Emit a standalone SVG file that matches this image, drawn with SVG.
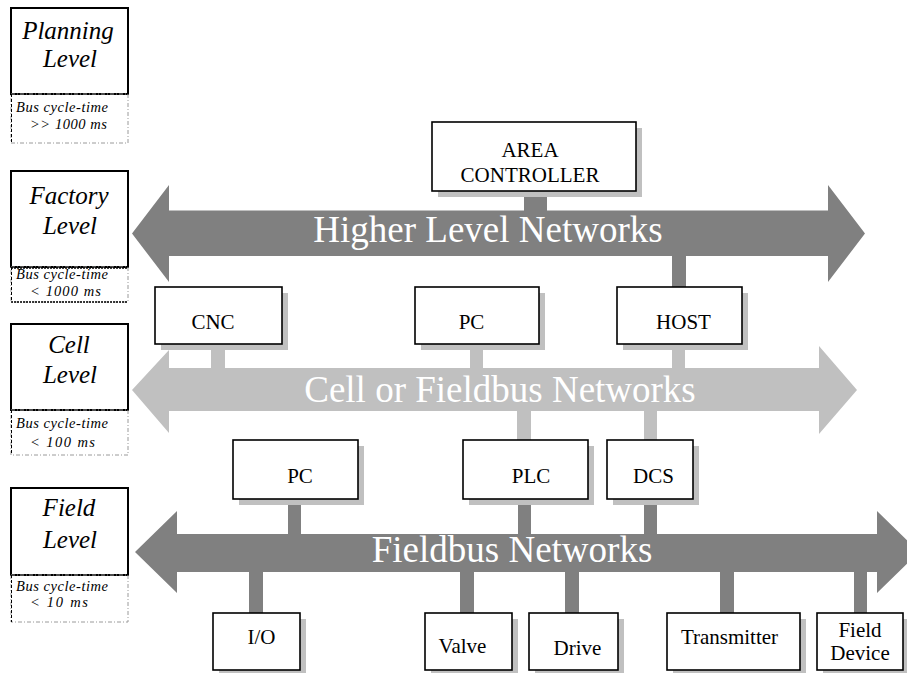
<svg xmlns="http://www.w3.org/2000/svg" width="907" height="673" viewBox="0 0 907 673">
<style>
.lvl{fill:#fff;stroke:#000;stroke-width:2}
.lt{font-family:"Liberation Serif",serif;font-style:italic;font-size:25px;text-anchor:middle;fill:#000}
.bt{font-family:"Liberation Serif",serif;font-style:italic;font-size:14.5px;fill:#000}
.sub{fill:none;stroke:#9a9a9a;stroke-width:1;stroke-dasharray:4 2 1 2}
.subl{stroke:#000;stroke-width:1;stroke-dasharray:3 2}
.dot{stroke:#000;stroke-width:1.5;stroke-dasharray:2 1}
.box{fill:#fff;stroke:#000;stroke-width:1.6}
.sh{fill:#c0c0c0}
.nt{font-family:"Liberation Serif",serif;font-size:21px;text-anchor:middle;fill:#000}
.net{font-family:"Liberation Serif",serif;font-size:37px;text-anchor:middle;fill:#fff}
.dk{fill:#808080}
.lg{fill:#c0c0c0}
</style>

<g id="planning-level">
<rect class="lvl" x="11" y="8" width="117" height="86"/>
<text class="lt" x="68" y="39">Planning</text>
<text class="lt" x="70" y="67">Level</text>
<rect class="sub" x="11" y="94" width="117" height="49"/>
<line class="subl" x1="11.5" y1="94" x2="11.5" y2="143"/>
<text class="bt" x="16" y="112" textLength="92" lengthAdjust="spacing">Bus cycle-time</text>
<text class="bt" x="30" y="129" textLength="77" lengthAdjust="spacing">&gt;&gt; 1000 ms</text>
</g>

<g id="factory-level">
<rect class="lvl" x="11" y="171" width="117" height="96"/>
<text class="lt" x="69" y="204">Factory</text>
<text class="lt" x="70" y="234">Level</text>
<rect class="sub" x="11" y="267" width="117" height="35"/>
<line class="subl" x1="11.5" y1="267" x2="11.5" y2="302"/>
<line class="dot" x1="11" y1="268" x2="128" y2="268"/>
<line class="dot" x1="11" y1="302" x2="128" y2="302"/>
<text class="bt" x="16" y="279" textLength="92" lengthAdjust="spacing">Bus cycle-time</text>
<text class="bt" x="30" y="296" textLength="71" lengthAdjust="spacing">&lt; 1000 ms</text>
</g>

<g id="cell-level">
<rect class="lvl" x="11" y="324" width="117" height="86"/>
<text class="lt" x="69" y="353">Cell</text>
<text class="lt" x="70" y="383">Level</text>
<rect class="sub" x="11" y="410" width="117" height="45"/>
<line class="subl" x1="11.5" y1="410" x2="11.5" y2="455"/>
<text class="bt" x="16" y="428" textLength="92" lengthAdjust="spacing">Bus cycle-time</text>
<text class="bt" x="30" y="447" textLength="65" lengthAdjust="spacing">&lt; 100 ms</text>
</g>

<g id="field-level">
<rect class="lvl" x="11" y="488" width="117" height="87"/>
<text class="lt" x="69" y="516">Field</text>
<text class="lt" x="70" y="548">Level</text>
<rect class="sub" x="11" y="575" width="117" height="47"/>
<line class="subl" x1="11.5" y1="575" x2="11.5" y2="622"/>
<text class="bt" x="16" y="591" textLength="92" lengthAdjust="spacing">Bus cycle-time</text>
<text class="bt" x="30" y="607" textLength="58" lengthAdjust="spacing">&lt; 10 ms</text>
</g>

<g id="connectors">
<rect class="dk" x="524" y="191" width="23" height="21"/>
<rect class="dk" x="672" y="254" width="14" height="34"/>
<rect class="lg" x="211" y="344" width="14" height="26"/>
<rect class="lg" x="470" y="344" width="13" height="26"/>
<rect class="lg" x="672" y="344" width="13" height="26"/>
<rect class="lg" x="517" y="409" width="14" height="32"/>
<rect class="lg" x="644" y="409" width="13" height="32"/>
<rect class="dk" x="288" y="499" width="13" height="37"/>
<rect class="dk" x="518" y="499" width="13" height="37"/>
<rect class="dk" x="644" y="499" width="13" height="37"/>
<rect class="dk" x="249" y="570" width="14" height="44"/>
<rect class="dk" x="460" y="570" width="14" height="44"/>
<rect class="dk" x="565" y="570" width="14" height="44"/>
<rect class="dk" x="720" y="570" width="14" height="44"/>
<rect class="dk" x="854" y="570" width="13" height="44"/>
</g>

<g id="higher-level-networks">
<polygon class="dk" points="132,233.5 169,185 169,210.5 828,210.5 828,185 865,233.5 828,282 828,256 169,256 169,282"/>
<text class="net" x="488" y="242">Higher Level Networks</text>
</g>

<g id="cell-networks">
<polygon class="lg" points="132,390 169,350 169,368 819,368 819,346 857,390 819,434 819,411 169,411 169,433"/>
<text class="net" x="500" y="402">Cell or Fieldbus Networks</text>
</g>

<g id="fieldbus-networks">
<polygon class="dk" points="135,552 177,511 177,534 877,534 877,511 919,552 877,593 877,572 177,572 177,593"/>
<text class="net" x="512" y="562">Fieldbus Networks</text>
</g>

<g id="area-controller">
<rect class="sh" x="438" y="128" width="204" height="69"/>
<rect class="box" x="432" y="122" width="204" height="69"/>
<text class="nt" x="530" y="157">AREA</text>
<text class="nt" x="530" y="182">CONTROLLER</text>
</g>

<g id="cnc">
<rect class="sh" x="161" y="293" width="127" height="57"/>
<rect class="box" x="155" y="287" width="127" height="57"/>
<text class="nt" x="213" y="329">CNC</text>
</g>

<g id="pc-upper">
<rect class="sh" x="421" y="293" width="124" height="57"/>
<rect class="box" x="415" y="287" width="124" height="57"/>
<text class="nt" x="471.5" y="329">PC</text>
</g>

<g id="host">
<rect class="sh" x="623" y="293" width="125" height="57"/>
<rect class="box" x="617" y="287" width="125" height="57"/>
<text class="nt" x="683.5" y="329">HOST</text>
</g>

<g id="pc-lower">
<rect class="sh" x="239" y="446" width="125" height="59"/>
<rect class="box" x="233" y="440" width="125" height="59"/>
<text class="nt" x="300" y="483">PC</text>
</g>

<g id="plc">
<rect class="sh" x="469" y="446" width="125" height="59"/>
<rect class="box" x="463" y="440" width="125" height="59"/>
<text class="nt" x="531" y="483">PLC</text>
</g>

<g id="dcs">
<rect class="sh" x="613" y="446" width="86" height="59"/>
<rect class="box" x="607" y="440" width="86" height="59"/>
<text class="nt" x="653.5" y="483">DCS</text>
</g>

<g id="io">
<rect class="sh" x="219" y="619" width="87" height="57"/>
<rect class="box" x="213" y="613" width="87" height="57"/>
<text class="nt" x="261.5" y="644">I/O</text>
</g>

<g id="valve">
<rect class="sh" x="431" y="619" width="87" height="57"/>
<rect class="box" x="425" y="613" width="87" height="57"/>
<text class="nt" x="462.5" y="653">Valve</text>
</g>

<g id="drive">
<rect class="sh" x="535" y="619" width="89" height="57"/>
<rect class="box" x="529" y="613" width="89" height="57"/>
<text class="nt" x="577.5" y="655">Drive</text>
</g>

<g id="transmitter">
<rect class="sh" x="673" y="619" width="133" height="57"/>
<rect class="box" x="667" y="613" width="133" height="57"/>
<text class="nt" x="729.5" y="644">Transmitter</text>
</g>

<g id="field-device">
<rect class="sh" x="823" y="619" width="86" height="57"/>
<rect class="box" x="817" y="613" width="86" height="57"/>
<text class="nt" x="860" y="637">Field</text>
<text class="nt" x="860" y="660">Device</text>
</g>
</svg>
